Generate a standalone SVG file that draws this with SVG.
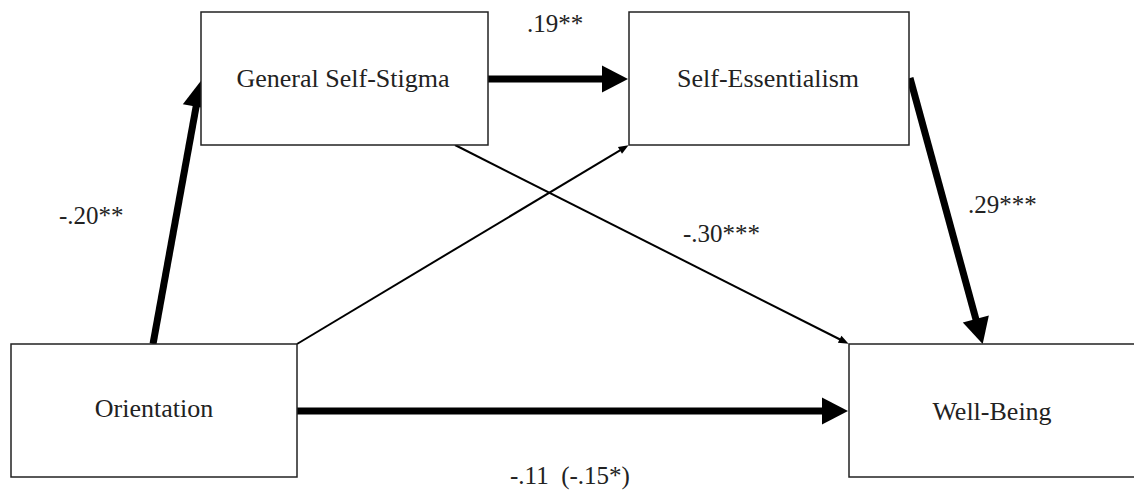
<svg xmlns="http://www.w3.org/2000/svg" width="1134" height="491" viewBox="0 0 1134 491">
<style>
.box{fill:#fff;stroke:#222;stroke-width:1.5}
.lbl{font-size:26px;fill:#222;text-anchor:middle}
.num{font-size:25px;fill:#222}
.thick{stroke:#000;stroke-width:7;fill:none}
.thin{stroke:#000;stroke-width:2;fill:none}
</style>
<defs>
<marker id="big" markerUnits="userSpaceOnUse" markerWidth="27" markerHeight="28" refX="1" refY="13.5" orient="auto" overflow="visible">
<path d="M0,0 L26,13.5 L0,27 z" fill="#000"/>
</marker>
<marker id="small" markerUnits="userSpaceOnUse" markerWidth="11" markerHeight="9" refX="0.5" refY="4" orient="auto" overflow="visible">
<path d="M0,0 L10,4 L0,8 z" fill="#000"/>
</marker>
</defs>
<g id="connectors">
<line class="thick" x1="153" y1="344" x2="196.3" y2="105.6" marker-end="url(#big)"/>
<line class="thick" x1="488" y1="79" x2="603" y2="79" marker-end="url(#big)"/>
<line class="thick" x1="910" y1="78" x2="976.1" y2="319.9" marker-end="url(#big)"/>
<line class="thick" x1="297" y1="411" x2="823" y2="411" marker-end="url(#big)"/>
<line class="thin" x1="297" y1="344" x2="620.4" y2="150.1" marker-end="url(#small)"/>
<line class="thin" x1="455" y1="145" x2="840.1" y2="339.5" marker-end="url(#small)"/>
</g>
<g id="node-gss">
<rect class="box" x="201" y="12" width="287" height="133"/>
<text class="lbl" style="font-family:'Liberation Serif',serif" x="343" y="87">General Self-Stigma</text>
</g>
<g id="node-se">
<rect class="box" x="629" y="12" width="280" height="133"/>
<text class="lbl" style="font-family:'Liberation Serif',serif" x="768" y="87">Self-Essentialism</text>
</g>
<g id="node-orientation">
<rect class="box" x="11" y="344" width="286" height="133"/>
<text class="lbl" style="font-family:'Liberation Serif',serif" x="154" y="417">Orientation</text>
</g>
<g id="node-wb">
<rect class="box" x="849" y="344" width="287" height="133"/>
<text class="lbl" style="font-family:'Liberation Serif',serif" x="992" y="420">Well-Being</text>
</g>
<g id="labels">
<text class="num" style="font-family:'Liberation Serif',serif" x="527" y="32">.19**</text>
<text class="num" style="font-family:'Liberation Serif',serif" x="59" y="224">-.20**</text>
<text class="num" style="font-family:'Liberation Serif',serif" x="683" y="242">-.30***</text>
<text class="num" style="font-family:'Liberation Serif',serif" x="968" y="213">.29***</text>
<text class="num" style="font-family:'Liberation Serif',serif" x="510" y="484" xml:space="preserve">-.11  (-.15*)</text>
</g>
</svg>
